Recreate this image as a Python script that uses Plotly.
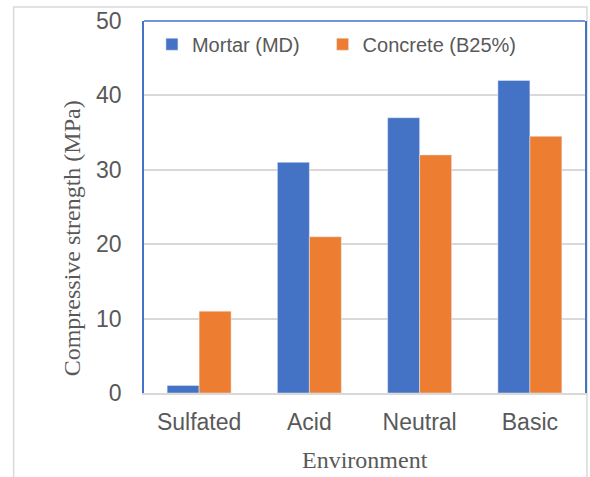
import plotly.graph_objects as go

categories = ["Sulfated", "Acid", "Neutral", "Basic"]
mortar = [1, 31, 37, 42]
concrete = [11, 21, 32, 34.5]
series_names = ["Mortar (MD)", "Concrete (B25%)"]
y_ticks = [0, 10, 20, 30, 40, 50]

BLUE = "#4472C4"
ORANGE = "#ED7D31"
GRID = "#D9D9D9"
TXT = "#595959"

fig = go.Figure()
fig.add_trace(go.Bar(x=categories, y=mortar, name=series_names[0], marker_color=BLUE, legend="legend"))
fig.add_trace(go.Bar(x=categories, y=concrete, name=series_names[1], marker_color=ORANGE, legend="legend2"))

leg_common = dict(orientation="h", yanchor="top", xanchor="left", y=0.99,
                  bgcolor="rgba(0,0,0,0)", font=dict(size=20, color=TXT), itemwidth=30)

fig.update_layout(
    width=590, height=477,
    margin=dict(l=144, r=3, t=21, b=84),
    paper_bgcolor="white", plot_bgcolor="white",
    barmode="group", bargap=0.42, bargroupgap=0,
    font=dict(family="Liberation Sans, Arial", color=TXT),
    showlegend=True,
    legend=dict(x=0.018, **leg_common),
    legend2=dict(x=0.405, **leg_common),
    xaxis=dict(showline=True, linecolor=GRID, linewidth=2, showgrid=False,
               tickfont=dict(size=23, color=TXT), ticks="", ticklabelstandoff=7),
    yaxis=dict(range=[0, 50], tickvals=y_ticks, showgrid=True, gridcolor=GRID, gridwidth=2,
               zeroline=False, showline=True, linecolor=BLUE, linewidth=1.5, mirror=True,
               tickfont=dict(size=23, color=TXT), ticks="", ticklabelstandoff=16),
    shapes=[
        dict(type="line", xref="paper", yref="paper", x0=0, x1=1, y0=1, y1=1,
             line=dict(color=BLUE, width=1.5)),
        dict(type="rect", xref="paper", yref="paper", x0=-0.2957, x1=1.0045, y0=-0.4, y1=1.0376,
             line=dict(color=GRID, width=1.5), layer="below"),
    ],
    annotations=[
        dict(text="Environment", xref="paper", yref="paper", x=0.5, y=(393 - 460) / 372,
             showarrow=False, font=dict(family="Liberation Serif, Times New Roman", size=24, color=TXT),
             xanchor="center", yanchor="middle"),
        dict(text="Compressive strength (MPa)", xref="paper", yref="paper",
             x=(72 - 144) / 443, y=(393 - 238) / 372, textangle=-90,
             showarrow=False, font=dict(family="Liberation Serif, Times New Roman", size=24, color=TXT),
             xanchor="center", yanchor="middle"),
    ],
)

fig.write_html("out.html")
